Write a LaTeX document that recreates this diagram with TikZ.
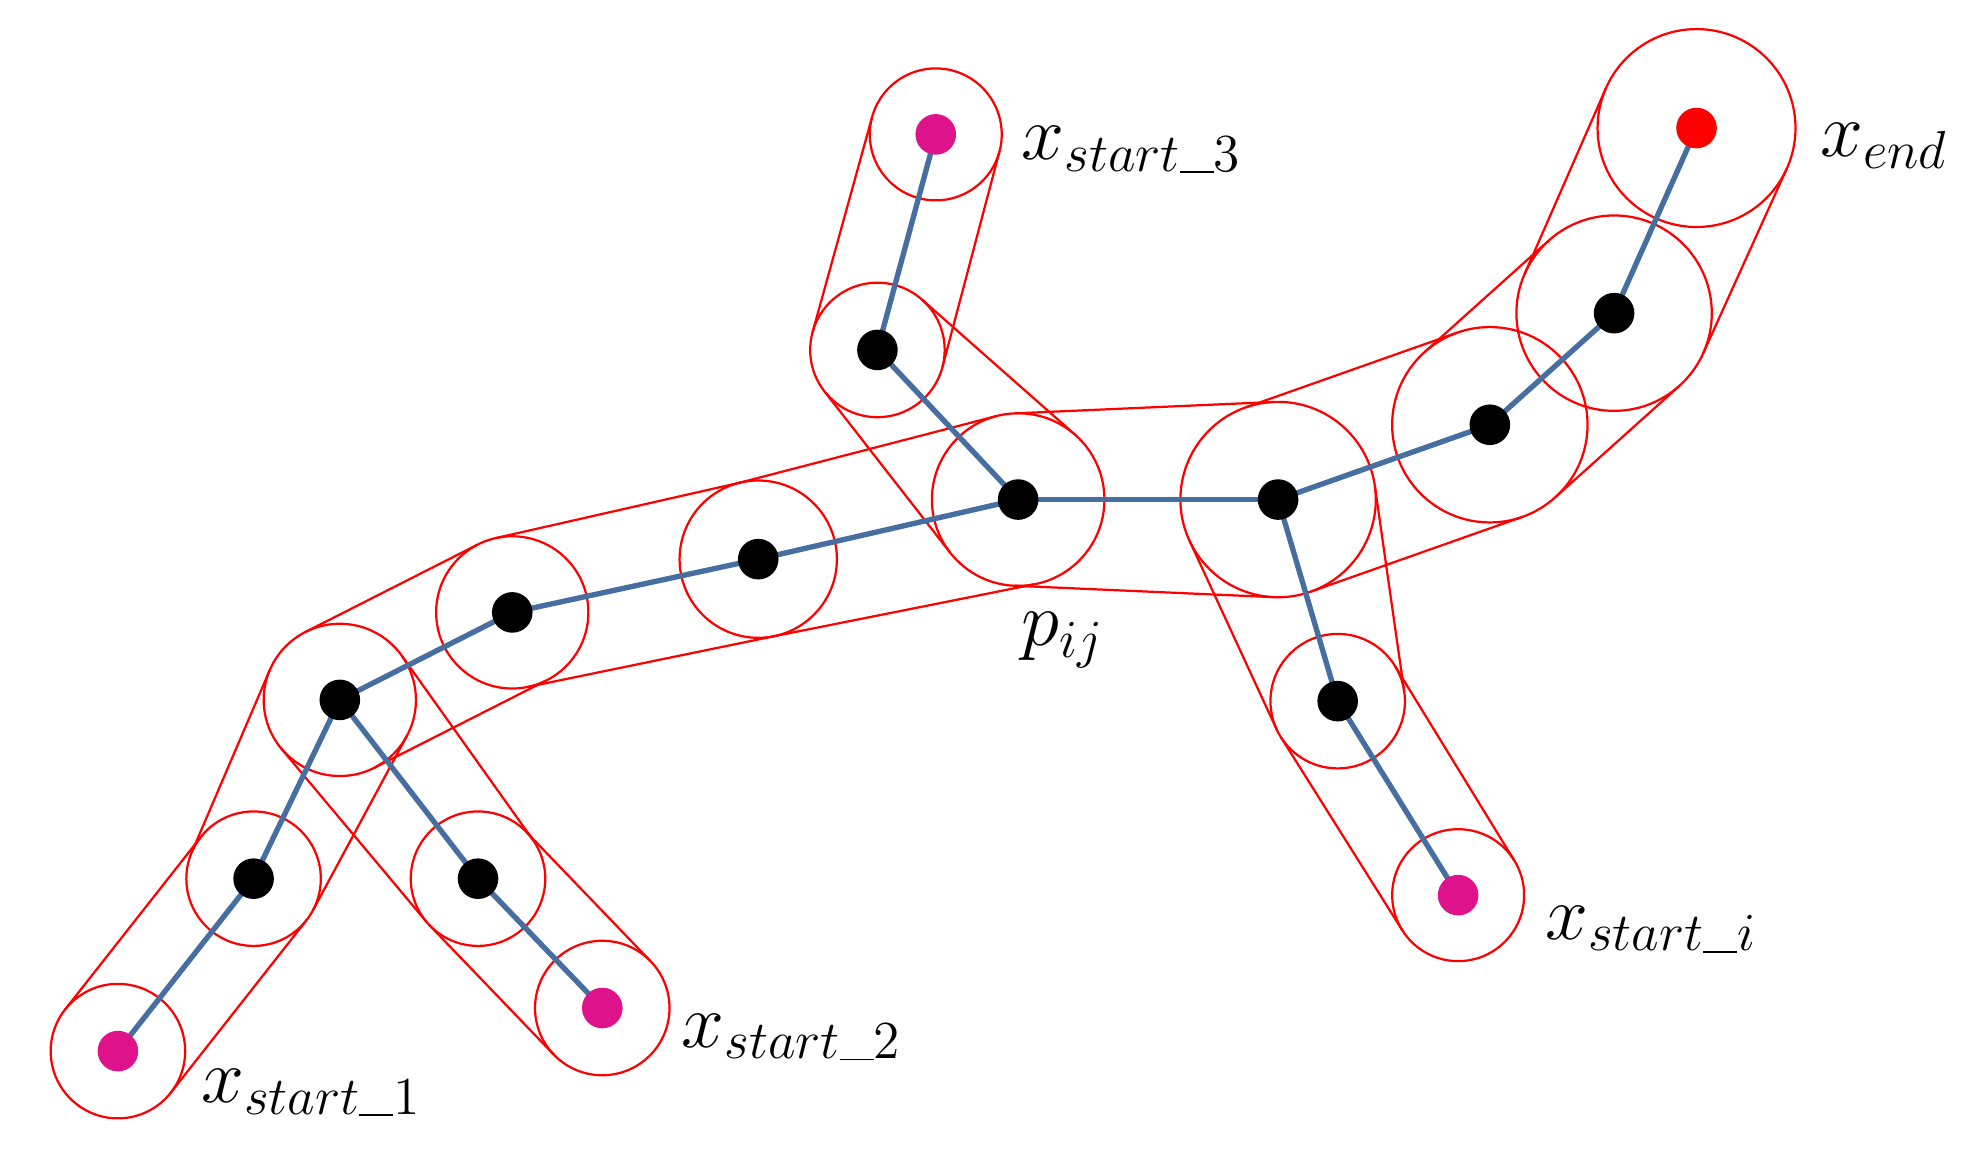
\documentclass[tikz,border=0pt]{standalone}
\usetikzlibrary{calc}
\tikzset{hull/.style={draw=red,line width=0.5pt},
edge/.style={draw={rgb,255:red,70;green,110;blue,160},line width=1.2pt},
lab/.style={anchor=west,font=\fontsize{17}{20}\selectfont,inner sep=0pt}}
\newcommand\myus{\rule[-0.4pt]{0.45em}{0.4pt}}
\newcommand\tube[4]{\draw[hull] let \p1=(#1), \p2=(#3), \n1={atan2(\y2-\y1,\x2-\x1)}, \n2={veclen(\x2-\x1,\y2-\y1)}, \n3={acos(((#2)-(#4))*0.28453/\n2)} in ($(#1)+(\n1+\n3:#2*0.28453pt)$) -- ($(#3)+(\n1+\n3:#4*0.28453pt)$) ($(#1)+(\n1-\n3:#2*0.28453pt)$) -- ($(#3)+(\n1-\n3:#4*0.28453pt)$);}
\begin{document}
\begin{tikzpicture}[x=0.01cm,y=-0.01cm]
\useasboundingbox (0,0) rectangle (1560,910);
\foreach \n/\x/\y/\r in {s1/93/829/53,a1/200/693/53,b/268/552/60,s2/475/795/53,a2/377/693/53,c/404/483/60,d/598/441/62,p/803/394/68,t1/692/276/53,s3/738/106/52,q/1008/394/77,u/1055/553/53,si/1150/706/52,v/1175/335/77,w/1273/247/77,e/1338/101/78}{
\coordinate (\n) at (\x,\y);
\draw[hull] (\n) circle[radius=\r*0.28453pt];
}
\tube{s1}{53}{a1}{53}\tube{a1}{53}{b}{60}\tube{s2}{53}{a2}{53}\tube{a2}{53}{b}{60}
\tube{b}{60}{c}{60}\tube{c}{60}{d}{62}\tube{d}{62}{p}{68}\tube{p}{68}{q}{77}
\tube{q}{77}{v}{77}\tube{v}{77}{w}{77}\tube{w}{77}{e}{78}
\tube{s3}{52}{t1}{53}\tube{t1}{53}{p}{68}\tube{q}{77}{u}{53}\tube{u}{53}{si}{52}
\foreach \a/\b in {s1/a1,a1/b,s2/a2,a2/b,b/c,c/d,d/p,p/q,q/v,v/w,w/e,s3/t1,t1/p,q/u,u/si}{\draw[edge] (\a)--(\b);}
\foreach \n in {a1,b,a2,c,d,p,t1,q,u,v,w}{\fill (\n) circle[radius=16*0.28453pt];}
\foreach \n in {s1,s2,s3,si}{\fill[magenta!85!violet] (\n) circle[radius=16*0.28453pt];}
\fill[red] (e) circle[radius=16*0.28453pt];
\node[lab] (l3) at (805,118) {$x_{start\myus3}$};
\node[lab] (le) at (1435,115) {$x_{end}$};
\node[lab] (l1) at (158,862) {$x_{start\myus1}$};
\node[lab] (l2) at (537,818) {$x_{start\myus2}$};
\node[lab] (li) at (1218,733) {$x_{start\myus i}$};
\node[lab] (lp) at (805,505) {$p_{ij}$};
\end{tikzpicture}
\end{document}
